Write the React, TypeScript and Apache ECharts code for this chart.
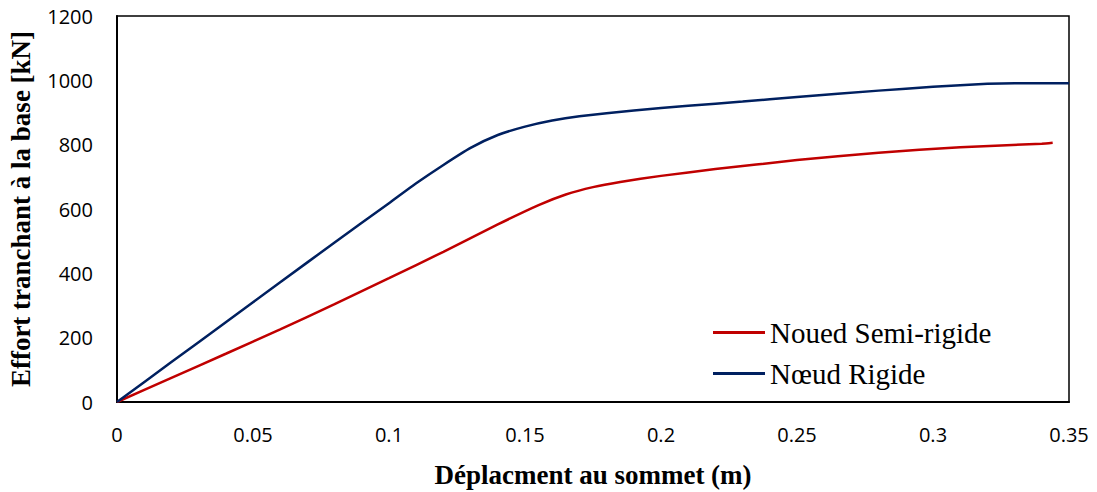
import React, { useEffect, useRef } from "react";
import * as echarts from "echarts";

const semiRigidDisp = [0, 0.02, 0.04, 0.06, 0.08, 0.1, 0.12, 0.14, 0.155, 0.165, 0.175, 0.185, 0.2, 0.22, 0.25, 0.28, 0.31, 0.34, 0.344];
const semiRigidForce = [0, 75, 150, 226, 304, 385, 467, 552, 612, 645, 668, 684, 703, 724, 752, 775, 792, 803, 806];

const rigidDisp = [0, 0.02, 0.04, 0.06, 0.08, 0.1, 0.11, 0.12, 0.13, 0.14, 0.15, 0.16, 0.17, 0.19, 0.21, 0.23, 0.25, 0.28, 0.3, 0.32, 0.33, 0.35];
const rigidForce = [0, 124, 248, 372, 496, 618, 680, 737, 790, 830, 856, 875, 888, 906, 921, 934, 948, 968, 980, 989, 991, 991];

const seriesNames = ["Noued Semi-rigide", "Nœud Rigide"];
const xTitle = "Déplacment au sommet (m)";
const yTitle = "Effort tranchant à la base [kN]";

const pairs = (xs: number[], ys: number[]) => xs.map((x, i) => [x, ys[i]]);

export default function App() {
  const ref = useRef<HTMLDivElement>(null);
  useEffect(() => {
    document.body.style.margin = "0";
    if (!ref.current) return;
    const chart = echarts.init(ref.current, null, { renderer: "svg" });
    chart.setOption({
      animation: false,
      backgroundColor: "#fff",
      grid: {
        left: 117,
        top: 16,
        right: 28,
        bottom: 90,
        containLabel: false,
        outerBoundsMode: "none",
        show: true,
        borderColor: "#000",
        borderWidth: 1.5,
      },
      legend: {
        orient: "vertical",
        left: 713,
        top: 318,
        padding: 0,
        itemWidth: 52,
        itemHeight: 3,
        itemGap: 12,
        icon: "rect",
        textStyle: {
          fontFamily: "Liberation Serif",
          fontSize: 29,
          lineHeight: 28,
          color: "#000",
        },
        data: seriesNames,
      },
      xAxis: {
        type: "value",
        min: 0,
        max: 0.35,
        interval: 0.05,
        name: xTitle,
        nameLocation: "middle",
        nameGap: 59,
        nameTextStyle: {
          fontFamily: "Liberation Serif",
          fontWeight: "bold",
          fontSize: 27,
          color: "#000",
        },
        axisLine: { show: true, lineStyle: { color: "#000", width: 2 } },
        axisTick: { show: false },
        splitLine: { show: false },
        axisLabel: {
          margin: 22,
          fontFamily: "Open Sans",
          fontSize: 20,
          color: "#000",
          formatter: (v: number) => String(+v.toFixed(2)),
        },
      },
      yAxis: {
        type: "value",
        min: 0,
        max: 1200,
        interval: 200,
        name: yTitle,
        nameLocation: "middle",
        nameGap: 83,
        nameTextStyle: {
          fontFamily: "Liberation Serif",
          fontWeight: "bold",
          fontSize: 27,
          color: "#000",
        },
        axisLine: { show: true, lineStyle: { color: "#000", width: 2 } },
        axisTick: { show: false },
        splitLine: { show: false },
        axisLabel: {
          margin: 24,
          fontFamily: "Open Sans",
          fontSize: 20,
          color: "#000",
          formatter: (v: number) => String(v),
        },
      },
      series: [
        {
          name: seriesNames[0],
          type: "line",
          data: pairs(semiRigidDisp, semiRigidForce),
          symbol: "none",
          smooth: 0.2,
          color: "#C00000",
          lineStyle: { color: "#C00000", width: 2.5 },
        },
        {
          name: seriesNames[1],
          type: "line",
          data: pairs(rigidDisp, rigidForce),
          symbol: "none",
          smooth: 0.2,
          color: "#002060",
          lineStyle: { color: "#002060", width: 2.5 },
        },
      ],
    });
    return () => chart.dispose();
  }, []);
  return <div ref={ref} style={{ width: 1097, height: 492 }} />;
}
